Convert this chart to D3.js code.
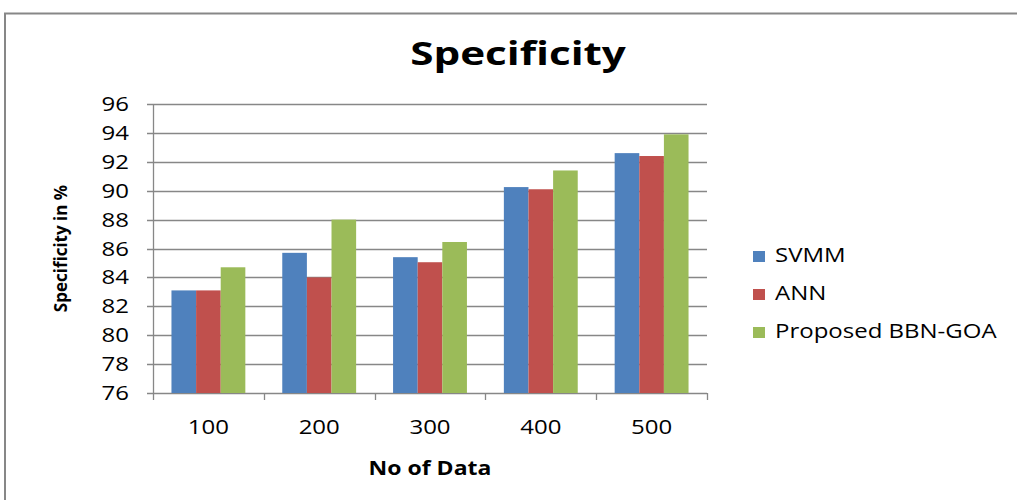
<!DOCTYPE html>
<html>
<head>
<meta charset="utf-8">
<script src="https://cdn.jsdelivr.net/npm/d3@7"></script>
<style>
  html, body { margin: 0; padding: 0; background: #fff; }
  svg { display: block; }
  text { font-family: "Open Sans", sans-serif; fill: #000; }
</style>
</head>
<body>
<svg id="chart" width="1017" height="500"></svg>
<script>
const categories = ["100", "200", "300", "400", "500"];
const seriesNames = ["SVMM", "ANN", "Proposed BBN-GOA"];
const svmm = [83.1, 85.7, 85.4, 90.25, 92.6];
const ann = [83.1, 84.0, 85.05, 90.1, 92.4];
const proposed = [84.7, 88.0, 86.45, 91.4, 93.9];
const yTicks = [76, 78, 80, 82, 84, 86, 88, 90, 92, 94, 96];
const colors = ["#4F81BD", "#C0504D", "#9BBB59"];
const seriesValues = [svmm, ann, proposed];

const svg = d3.select("#chart");
const SX = 1.2;
const pLeft = 153, pRight = 707, pTop = 104, pBottom = 393;

// frame
svg.append("path")
  .attr("d", "M5,501 L5,13.5 L1018,13.5")
  .attr("fill", "none").attr("stroke", "#878787").attr("stroke-width", 2);

const x0 = d3.scaleBand().domain(categories).range([pLeft, pRight]).paddingInner(0).paddingOuter(0);
const x1 = d3.scaleBand().domain(seriesNames).range([0, x0.bandwidth()]).paddingInner(0).paddingOuter(0.75);
const y = d3.scaleLinear().domain([76, 96]).range([pBottom, pTop]);

// gridlines
svg.append("g").selectAll("line").data(yTicks).join("line")
  .attr("x1", pLeft - 6).attr("x2", pRight)
  .attr("y1", d => Math.round(y(d)) + 0.5).attr("y2", d => Math.round(y(d)) + 0.5)
  .attr("stroke", "#878787").attr("stroke-width", 1.3);

// y axis line
svg.append("line").attr("x1", pLeft + 0.5).attr("x2", pLeft + 0.5)
  .attr("y1", pTop).attr("y2", pBottom + 1)
  .attr("stroke", "#878787").attr("stroke-width", 1.3);

// x tick marks
const bounds = categories.map(c => x0(c)).concat([pRight]);
svg.append("g").selectAll("line").data(bounds).join("line")
  .attr("x1", d => Math.round(d) + 0.5).attr("x2", d => Math.round(d) + 0.5)
  .attr("y1", pBottom).attr("y2", pBottom + 7)
  .attr("stroke", "#878787").attr("stroke-width", 1.3);

// bars
const groups = svg.append("g").selectAll("g").data(categories).join("g")
  .attr("transform", c => `translate(${x0(c)},0)`);
groups.selectAll("rect").data((c, i) => seriesNames.map((s, k) => ({ s, k, v: seriesValues[k][i] })))
  .join("rect")
  .attr("x", d => x1(d.s))
  .attr("width", x1.bandwidth())
  .attr("y", d => y(d.v))
  .attr("height", d => y(76) - y(d.v))
  .attr("fill", d => colors[d.k]);

// y tick labels
svg.append("g").selectAll("text").data(yTicks).join("text")
  .attr("transform", d => `translate(129,${y(d) + 7}) scale(${SX},1)`)
  .attr("text-anchor", "end")
  .attr("font-size", 20)
  .text(d => d);

// x tick labels
svg.append("g").selectAll("text").data(categories).join("text")
  .attr("transform", c => `translate(${x0(c) + x0.bandwidth() / 2},434) scale(${SX},1)`)
  .attr("text-anchor", "middle")
  .attr("font-size", 20)
  .text(c => c);

// title
svg.append("text")
  .attr("transform", `translate(518,65) scale(1.32,1)`)
  .attr("text-anchor", "middle")
  .attr("font-size", 32).attr("font-weight", "bold")
  .text("Specificity");

// x axis title
svg.append("text")
  .attr("transform", `translate(${(pLeft + pRight) / 2},475) scale(1.15,1)`)
  .attr("text-anchor", "middle")
  .attr("font-size", 20).attr("font-weight", "bold")
  .text("No of Data");

// y axis title
svg.append("text")
  .attr("transform", `translate(67,${(pTop + pBottom) / 2}) rotate(-90)`)
  .attr("text-anchor", "middle")
  .attr("font-size", 17).attr("font-weight", "bold")
  .text("Specificity in %");

// legend
const legend = svg.append("g").selectAll("g").data(seriesNames).join("g")
  .attr("transform", (d, i) => `translate(753,${262 + i * 38})`);
legend.append("rect").attr("x", 0).attr("y", -11).attr("width", 12).attr("height", 11)
  .attr("fill", (d, i) => colors[i]);
legend.append("text")
  .attr("transform", `translate(22,0) scale(${SX},1)`)
  .attr("font-size", 20)
  .text(d => d);
</script>
</body>
</html>
